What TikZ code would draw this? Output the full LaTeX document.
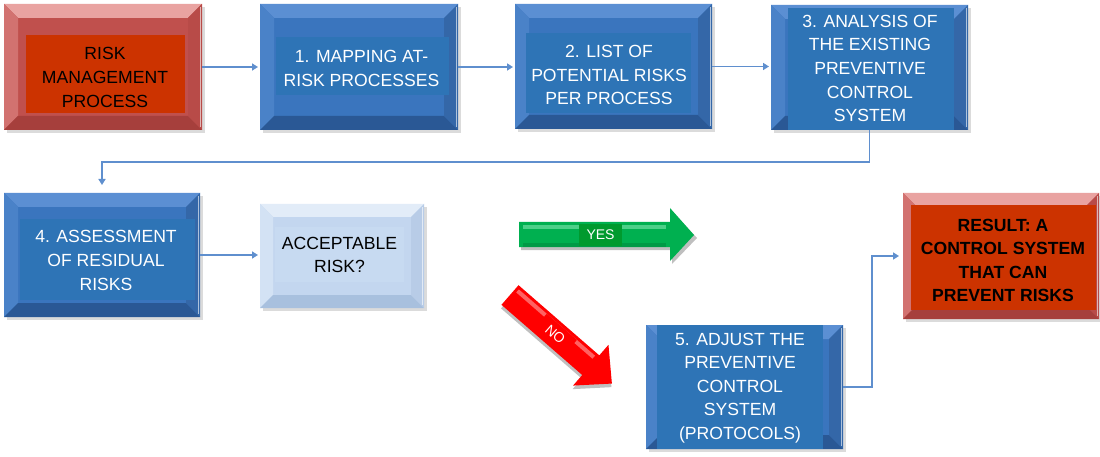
\documentclass[tikz,border=0pt]{standalone}
\usepackage{fontspec}
\setmainfont{Liberation Sans}
\usetikzlibrary{arrows.meta,shadows}
\definecolor{redBase}{HTML}{C0504D}
\definecolor{redT}{HTML}{E9A3A1}
\definecolor{redL}{HTML}{D27270}
\definecolor{redB}{HTML}{A63F3C}
\definecolor{redR}{HTML}{B84B48}
\definecolor{redIn}{HTML}{CC3300}
\definecolor{blueBase}{HTML}{3A75BE}
\definecolor{blueT}{HTML}{5B8FD3}
\definecolor{blueL}{HTML}{4A82C8}
\definecolor{blueB}{HTML}{2A5895}
\definecolor{blueR}{HTML}{3467A8}
\definecolor{blueIn}{HTML}{2E74B6}
\definecolor{ltBase}{HTML}{C3D6EF}
\definecolor{ltT}{HTML}{E2ECF8}
\definecolor{ltL}{HTML}{D3E2F4}
\definecolor{ltB}{HTML}{A8C0DE}
\definecolor{ltR}{HTML}{B8CCE7}
\definecolor{ltIn}{HTML}{C7DAF1}
\definecolor{connC}{HTML}{5F8FCE}
\definecolor{grA}{HTML}{00B050}
\definecolor{grHi}{HTML}{5FD896}
\definecolor{grLab}{HTML}{009A2E}
\definecolor{rdA}{HTML}{FF0000}
\definecolor{rdHi}{HTML}{FF7A7A}
\newcommand\bevelfaces[6]{%
  \fill[#2] (#1.north west) -- (#1.north east) -- ([shift={(-#6,-#6)}]#1.north east) -- ([shift={(#6,-#6)}]#1.north west) -- cycle;
  \fill[#3] (#1.north west) -- ([shift={(#6,-#6)}]#1.north west) -- ([shift={(#6,#6)}]#1.south west) -- (#1.south west) -- cycle;
  \fill[#4] (#1.south west) -- ([shift={(#6,#6)}]#1.south west) -- ([shift={(-#6,#6)}]#1.south east) -- (#1.south east) -- cycle;
  \fill[#5] (#1.south east) -- ([shift={(-#6,#6)}]#1.south east) -- ([shift={(-#6,-#6)}]#1.north east) -- (#1.north east) -- cycle;
  \draw[white, opacity=0.6, line width=1.2pt] ([shift={(-1.5pt,-3pt)}]#1.north east) -- ([shift={(-1.5pt,3pt)}]#1.south east);
}
\begin{document}
\begin{tikzpicture}[x=1pt,y=-1pt,
  outerbox/.style={rectangle, inner sep=0pt, outer sep=0pt,
    drop shadow={shadow xshift=3pt, shadow yshift=-3pt, opacity=0.28}},
  innerbox/.style={rectangle, inner sep=0pt, outer sep=0pt},
  txt/.style={inner sep=0pt, align=center, font=\fontsize{17.6}{23.6}\selectfont},
  txtw/.style={txt, text=white},
  conn/.style={draw=connC, line width=1.6pt, -{Triangle[length=6pt,width=7pt]}},
  lab/.style={inner sep=0pt, text=white, font=\fontsize{14}{16}\selectfont}
]
\fill[white] (0,0) rectangle (1100,457);
\useasboundingbox (0,0) rectangle (1100,457);

% ---- outer boxes
\node[outerbox, fill=redBase, minimum width=198pt, minimum height=126pt] (b0) at (103,67) {};
\node[outerbox, fill=blueBase, minimum width=198pt, minimum height=126pt] (b1) at (359,67) {};
\node[outerbox, fill=blueBase, minimum width=197pt, minimum height=125pt] (b2) at (613.5,66.5) {};
\node[outerbox, fill=blueBase, minimum width=197pt, minimum height=125pt] (b3) at (869.5,67.5) {};
\node[outerbox, fill=blueBase, minimum width=196pt, minimum height=124pt] (b4) at (102,255) {};
\node[outerbox, fill=ltBase, minimum width=164pt, minimum height=104pt] (acc) at (342,256) {};
\node[outerbox, fill=blueBase, minimum width=197pt, minimum height=124pt] (b5) at (744.5,387) {};
\node[outerbox, fill=redBase, minimum width=196pt, minimum height=126pt] (res) at (1001,256) {};

\bevelfaces{b0}{redT}{redL}{redB}{redR}{14pt}
\bevelfaces{b1}{blueT}{blueL}{blueB}{blueR}{14pt}
\bevelfaces{b2}{blueT}{blueL}{blueB}{blueR}{14pt}
\bevelfaces{b3}{blueT}{blueL}{blueB}{blueR}{14pt}
\bevelfaces{b4}{blueT}{blueL}{blueB}{blueR}{14pt}
\bevelfaces{acc}{ltT}{ltL}{ltB}{ltR}{13pt}
\bevelfaces{b5}{blueT}{blueL}{blueB}{blueR}{14pt}
\bevelfaces{res}{redT}{redL}{redB}{redR}{14pt}

% ---- inner rectangles
\node[innerbox, fill=redIn, minimum width=159pt, minimum height=78pt] (i0) at (105.5,74) {};
\node[innerbox, fill=blueIn, minimum width=173pt, minimum height=58pt] (i1) at (362.5,66) {};
\node[innerbox, fill=blueIn, minimum width=165pt, minimum height=80pt] (i2) at (608.5,73) {};
\node[innerbox, fill=blueIn, minimum width=166pt, minimum height=122pt] (i3) at (871,69) {};
\node[innerbox, fill=blueIn, minimum width=175pt, minimum height=81pt] (i4) at (107.5,259.5) {};
\node[innerbox, fill=ltIn, minimum width=129pt, minimum height=55pt] (iacc) at (339.5,254.5) {};
\node[innerbox, fill=blueIn, minimum width=166pt, minimum height=124pt] (i5) at (740,387) {};
\node[innerbox, fill=redIn, minimum width=185pt, minimum height=105pt] (ires) at (1003.5,257.5) {};

% ---- texts
\node[txt] (t0) at (105,77.5) {RISK\\MANAGEMENT\\PROCESS};
\node[txtw] (t1) at (361.5,68.5) {1. MAPPING AT-\\RISK PROCESSES};
\node[txtw] (t2) at (609,75) {2. LIST OF\\POTENTIAL RISKS\\PER PROCESS};
\node[txtw] (t3) at (870,68.5) {3. ANALYSIS OF\\THE EXISTING\\PREVENTIVE\\CONTROL\\SYSTEM};
\node[txtw] (t4) at (106,260.5) {4. ASSESSMENT\\OF RESIDUAL\\RISKS};
\node[txt] (tacc) at (339.5,255) {ACCEPTABLE\\RISK?};
\node[txtw] (t5) at (740,388) {5. ADJUST THE\\PREVENTIVE\\CONTROL\\SYSTEM\\(PROTOCOLS)};
\node[txt, font=\fontsize{17.6}{23.6}\selectfont\bfseries] (tres) at (1003,260.5) {RESULT: A\\CONTROL SYSTEM\\THAT CAN\\PREVENT RISKS};

% ---- connectors
\draw[conn, shorten >=2pt] (b0.east) -- (b1.west);
\draw[conn, shorten >=2pt] (b1.east) -- (b1.east -| b2.west);
\draw[conn, shorten >=2pt] (b2.east) -- (b2.east -| b3.west);
\draw[conn, shorten >=8pt] (b3.south) -- ++(0,32) -| (b4.north);
\draw[conn, shorten >=2pt] (b4.east) -- (b4.east -| acc.west);
\draw[conn, shorten >=4pt] (b5.east) -- ++(29,0) |- (res.west);

% ---- YES arrow
\fill[black, opacity=0.25] (521,225) -- (672,225) -- (672,211) -- (697,238) -- (672,264) -- (672,250) -- (521,250) -- cycle;
\fill[grA] (519,222) -- (670,222) -- (670,208) -- (694,235) -- (670,261) -- (670,247) -- (519,247) -- cycle;
\fill[grHi, opacity=0.8] (523,225) -- (666,225) -- (666,229) -- (523,229) -- cycle;
\fill[black, opacity=0.12] (523,243) -- (666,243) -- (666,247) -- (523,247) -- cycle;
\node[lab, fill=grLab, minimum width=43pt, minimum height=22pt] (yes) at (600.5,235) {YES};

% ---- NO arrow
\begin{scope}[shift={(510,295)}, rotate=-41]
  \fill[black, opacity=0.25, shift={(2pt,-3pt)}] (0,-13) -- (107,-13) -- (107,-27) -- (135,0) -- (107,27) -- (107,13) -- (0,13) -- cycle;
  \fill[rdA] (0,-13) -- (107,-13) -- (107,-27) -- (135,0) -- (107,27) -- (107,13) -- (0,13) -- cycle;
  \fill[rdHi, opacity=0.8] (3,-10) -- (104,-10) -- (104,-6) -- (3,-6) -- cycle;
  \node[lab, fill=rdA, rotate=-41, minimum width=40pt, minimum height=20pt] (no) at (60,0) {NO};
\end{scope}
\end{tikzpicture}
\end{document}
